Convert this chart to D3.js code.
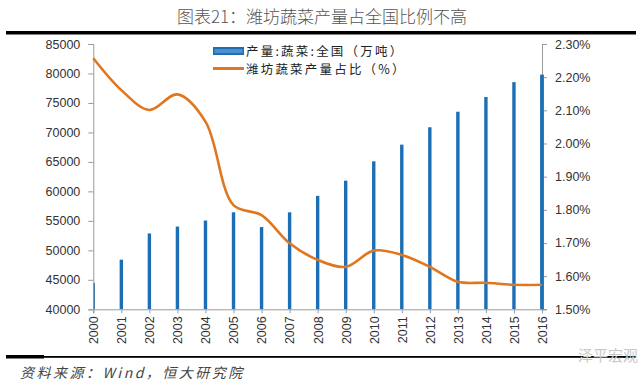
<!DOCTYPE html>
<html><head><meta charset="utf-8">
<script src="https://cdn.jsdelivr.net/npm/d3@7/dist/d3.min.js"></script>
<style>body{margin:0;background:#fff}svg{display:block}</style>
</head><body>
<svg id="c" width="641" height="383"></svg>
<script>
const years = ["2000","2001","2002","2003","2004","2005","2006","2007","2008","2009","2010","2011","2012","2013","2014","2015","2016"];
const production = [44470,48420,52860,54030,55060,56450,53950,56450,59240,61820,65100,67930,70880,73510,76010,78530,79780];
const share = [2.257,2.161,2.101,2.148,2.066,1.814,1.784,1.699,1.649,1.628,1.677,1.664,1.628,1.583,1.580,1.574,1.574];
const leftTicks = [40000,45000,50000,55000,60000,65000,70000,75000,80000,85000];
const rightTicks = [1.5,1.6,1.7,1.8,1.9,2.0,2.1,2.2,2.3];
const title = "图表21：潍坊蔬菜产量占全国比例不高";
const legendLabels = ["产量:蔬菜:全国（万吨）","潍坊蔬菜产量占比（%）"];
const source = "资料来源：Wind，恒大研究院";

const svg = d3.select("#c");
const L = 93.3, R = 542, T = 44, B = 309.3;
const font = "'Liberation Sans', Arial, sans-serif";
const cjk = "'Noto Sans CJK SC', sans-serif";

const x = d3.scalePoint().domain(years).range([L, R]);
const yL = d3.scaleLinear().domain([40000, 85000]).range([B, T]);
const yR = d3.scaleLinear().domain([1.5, 2.3]).range([B, T]);

// title
svg.append("text").attr("x", 322).attr("y", 23).attr("text-anchor", "middle")
  .attr("font-family", cjk).attr("font-size", 17).attr("font-weight", 300).attr("fill", "#555").text(title);
svg.append("rect").attr("x", 6).attr("y", 31).attr("width", 630).attr("height", 3.5).attr("fill", "#000");

// clip
svg.append("clipPath").attr("id", "clip").append("rect")
  .attr("x", L).attr("y", 0).attr("width", R - L + 4).attr("height", B);

// bars
svg.append("g").attr("clip-path", "url(#clip)").selectAll("rect").data(years).join("rect")
  .attr("x", d => x(d) - 1.7).attr("width", 3.4)
  .attr("y", (d, i) => yL(production[i])).attr("height", (d, i) => B - yL(production[i]))
  .attr("fill", "#1c6fb5");

// axes
const gL = svg.append("g").attr("transform", `translate(${L},0)`)
  .call(d3.axisLeft(yL).tickValues(leftTicks).tickSize(5).tickPadding(8).tickFormat(d3.format("d")));
const gR = svg.append("g").attr("transform", `translate(${R},0)`)
  .call(d3.axisRight(yR).tickValues(rightTicks).tickSize(5).tickPadding(8).tickFormat(d => d.toFixed(2) + "%"));
const gX = svg.append("g").attr("transform", `translate(0,${B})`)
  .call(d3.axisBottom(x).tickSize(4).tickPadding(4));
[gL, gR, gX].forEach(g => {
  g.select(".domain").attr("stroke", "#999");
  g.selectAll(".tick line").attr("stroke", "#999");
  g.selectAll("text").attr("font-family", font).attr("font-size", 12.5).attr("fill", "#333");
});
gX.selectAll("text").attr("transform", "rotate(-90)").attr("text-anchor", "end")
  .attr("x", -7).attr("y", 0).attr("dy", "0.35em");
// redraw 2016 bar on top of right axis
svg.append("rect").attr("x", x("2016") - 1.7).attr("width", 3.4)
  .attr("y", yL(production[16])).attr("height", B - yL(production[16])).attr("fill", "#1c6fb5");

// line
const line = d3.line().x((d, i) => x(years[i])).y(d => yR(d)).curve(d3.curveCatmullRom.alpha(0.5));
svg.append("path").datum(share).attr("d", line).attr("fill", "none")
  .attr("stroke", "#e0771f").attr("stroke-width", 2.6);

// legend
const lg = svg.append("g");
lg.append("rect").attr("x", 213).attr("y", 47).attr("width", 31).attr("height", 8).attr("fill", "#1c6fb5");
lg.append("rect").attr("x", 214.5).attr("y", 49).attr("width", 28).attr("height", 4).attr("fill", "#4f8fcb");
lg.append("line").attr("x1", 213).attr("x2", 244).attr("y1", 68.5).attr("y2", 68.5)
  .attr("stroke", "#e0771f").attr("stroke-width", 3);
legendLabels.forEach((t, i) => lg.append("text").attr("x", 246).attr("y", 55.5 + i * 18)
  .attr("font-family", cjk).attr("font-size", 12.5).attr("letter-spacing", 2.2).attr("fill", "#222").text(t));

// bottom line and source
svg.append("rect").attr("x", 6).attr("y", 356).attr("width", 630).attr("height", 1.8).attr("fill", "#000");
svg.append("rect").attr("x", 6).attr("y", 355).attr("width", 38).attr("height", 3.5).attr("fill", "#000");
svg.append("text").attr("x", 20).attr("y", 378).attr("font-family", cjk).attr("font-size", 14)
  .attr("font-style", "italic").attr("letter-spacing", 2.5).attr("fill", "#444").text(source);
svg.append("text").attr("x", 638).attr("y", 361).attr("text-anchor", "end").attr("font-family", cjk)
  .attr("font-size", 15).attr("fill", "#c8c8c8").text("泽平宏观");
</script>
</body></html>
